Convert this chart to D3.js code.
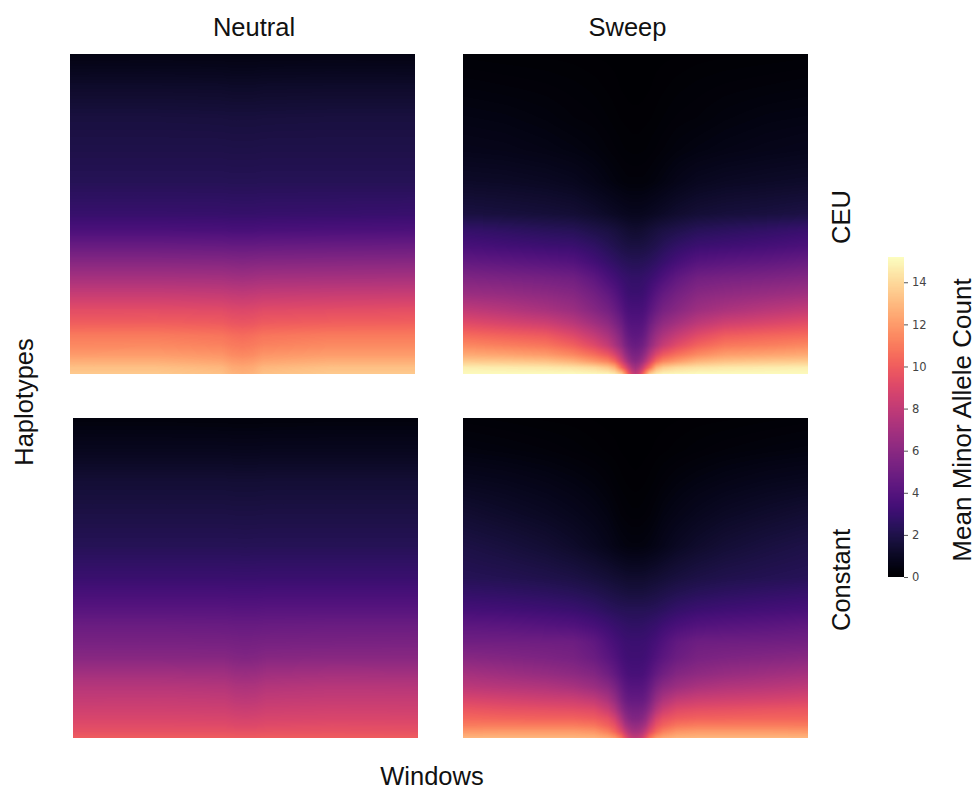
<!DOCTYPE html>
<html>
<head>
<meta charset="utf-8">
<script src="https://d3js.org/d3.v7.min.js"></script>
<style>
  html, body { margin: 0; padding: 0; background: #fff; }
  text { font-family: "Liberation Sans", Arial, sans-serif; fill: #111; }
</style>
</head>
<body>
<div id="chart"></div>
<script>
// haplotype rows (0 = top of the panel, 100 = bottom), bins
const haplotypeRows = [0, 10, 20, 30, 40, 50, 55, 60, 65, 70, 75, 80, 84, 88, 91, 94, 96, 98, 100];

// windows: neutral panels are flat so they need few columns, sweeps are dense around the middle
const neutralWindows = [0, 25, 44, 47, 50, 53, 56, 75, 100];
const sweepWindows = [0, 12, 24, 32, 38, 42, 44, 46, 47, 48, 49, 50, 51, 52, 53, 54, 56, 58, 62, 68, 76, 88, 100];

const colTitles = ['Neutral', 'Sweep'];
const rowTitles = ['CEU', 'Constant'];
const cbarTicks = [0, 2, 4, 6, 8, 10, 12, 14];
const cbarMax = 15.2;

const ceuNeutral = [
  [.5, .52, .5, .48, .48, .48, .5, .52, .5],
  [1.2, 1.2, 1.18, 1.15, 1.15, 1.15, 1.18, 1.2, 1.2],
  [1.75, 1.75, 1.72, 1.7, 1.7, 1.7, 1.72, 1.75, 1.75],
  [2.0, 2.0, 2.0, 1.98, 1.98, 1.98, 2.0, 2.0, 2.0],
  [2.3, 2.3, 2.3, 2.28, 2.28, 2.28, 2.3, 2.3, 2.3],
  [2.9, 2.9, 2.88, 2.85, 2.85, 2.85, 2.88, 2.9, 2.95],
  [3.6, 3.6, 3.55, 3.5, 3.5, 3.5, 3.55, 3.6, 3.65],
  [4.7, 4.7, 4.65, 4.6, 4.6, 4.6, 4.65, 4.7, 4.75],
  [5.85, 5.85, 5.8, 5.75, 5.7, 5.75, 5.8, 5.85, 5.9],
  [7.0, 7.0, 6.95, 6.85, 6.8, 6.85, 6.95, 7.0, 7.05],
  [8.2, 8.2, 8.1, 8.0, 7.95, 8.0, 8.1, 8.2, 8.25],
  [9.3, 9.3, 9.2, 9.05, 9.0, 9.05, 9.2, 9.3, 9.4],
  [10.0, 10.05, 9.9, 9.7, 9.65, 9.7, 9.9, 10.05, 10.1],
  [11.0, 11.0, 10.8, 10.6, 10.5, 10.6, 10.8, 11.0, 11.0],
  [11.4, 11.45, 11.2, 11.0, 10.9, 11.0, 11.2, 11.45, 11.45],
  [12.0, 12.05, 11.8, 11.5, 11.4, 11.5, 11.8, 12.05, 12.05],
  [12.6, 12.6, 12.3, 12.0, 11.9, 12.0, 12.3, 12.6, 12.6],
  [13.2, 13.2, 12.9, 12.5, 12.4, 12.5, 12.9, 13.2, 13.2],
  [13.5, 13.5, 13.2, 12.8, 12.7, 12.8, 13.2, 13.5, 13.5]
];

const constNeutral = [
  [.35, .35, .33, .32, .32, .32, .33, .35, .35],
  [.85, .85, .85, .83, .83, .83, .85, .85, .85],
  [1.5, 1.5, 1.5, 1.48, 1.48, 1.48, 1.5, 1.5, 1.5],
  [1.9, 1.9, 1.9, 1.88, 1.88, 1.88, 1.9, 1.9, 1.9],
  [2.3, 2.3, 2.3, 2.3, 2.28, 2.3, 2.3, 2.3, 2.3],
  [3.0, 3.0, 3.0, 2.98, 2.98, 2.98, 3.0, 3.0, 3.0],
  [3.5, 3.5, 3.5, 3.48, 3.48, 3.48, 3.5, 3.5, 3.5],
  [4.1, 4.1, 4.1, 4.05, 4.05, 4.05, 4.1, 4.1, 4.1],
  [4.8, 4.8, 4.75, 4.7, 4.7, 4.7, 4.75, 4.8, 4.8],
  [5.3, 5.3, 5.25, 5.2, 5.15, 5.2, 5.25, 5.3, 5.35],
  [5.9, 5.9, 5.85, 5.7, 5.65, 5.7, 5.85, 5.95, 5.95],
  [6.9, 6.9, 6.8, 6.6, 6.55, 6.6, 6.8, 6.95, 6.9],
  [7.6, 7.6, 7.5, 7.3, 7.25, 7.3, 7.5, 7.65, 7.6],
  [8.1, 8.15, 8.05, 7.85, 7.8, 7.85, 8.05, 8.15, 8.15],
  [8.5, 8.5, 8.45, 8.3, 8.25, 8.3, 8.45, 8.55, 8.5],
  [8.9, 8.9, 8.85, 8.75, 8.7, 8.75, 8.85, 8.9, 8.9],
  [9.2, 9.2, 9.15, 9.05, 9.05, 9.05, 9.15, 9.25, 9.2],
  [9.5, 9.5, 9.5, 9.45, 9.45, 9.45, 9.5, 9.55, 9.5],
  [10.0, 10.0, 10.0, 9.95, 9.95, 9.95, 10.0, 10.0, 10.0]
];

const ceuSweep = [
  [.15, .12, .1, .08, .05, .04, .03, .02, .02, .02, .02, .02, .02, .02, .02, .02, .03, .04, .05, .08, .1, .12, .15],
  [.35, .3, .25, .2, .15, .1, .08, .05, .04, .03, .03, .03, .03, .03, .04, .05, .08, .1, .15, .2, .25, .3, .35],
  [.55, .5, .4, .3, .25, .18, .14, .11, .1, .09, .08, .08, .08, .09, .1, .11, .14, .18, .25, .3, .4, .5, .55],
  [.75, .7, .6, .5, .4, .3, .25, .2, .18, .17, .16, .16, .16, .17, .18, .2, .25, .3, .4, .5, .6, .7, .78],
  [1.15, 1.1, 1.0, .88, .68, .52, .44, .37, .34, .32, .32, .32, .32, .32, .34, .37, .44, .52, .7, .9, 1.02, 1.12, 1.2],
  [1.8, 1.7, 1.6, 1.5, 1.3, 1.12, 1.03, .94, .9, .87, .85, .85, .85, .87, .9, .94, 1.03, 1.13, 1.32, 1.52, 1.65, 1.75, 1.9],
  [2.8, 2.6, 2.4, 2.3, 2.0, 1.82, 1.7, 1.55, 1.47, 1.4, 1.36, 1.35, 1.36, 1.4, 1.47, 1.55, 1.7, 1.84, 2.05, 2.35, 2.5, 2.7, 2.95],
  [3.5, 3.3, 3.1, 3.0, 2.65, 2.3, 2.12, 1.95, 1.88, 1.83, 1.8, 1.8, 1.8, 1.83, 1.88, 1.95, 2.12, 2.35, 2.7, 3.05, 3.2, 3.4, 3.65],
  [4.5, 4.3, 4.1, 3.9, 3.3, 2.85, 2.65, 2.45, 2.38, 2.32, 2.3, 2.3, 2.3, 2.32, 2.38, 2.45, 2.65, 2.9, 3.4, 4.0, 4.2, 4.4, 4.7],
  [5.6, 5.4, 5.2, 5.0, 4.3, 3.6, 3.3, 3.0, 2.9, 2.82, 2.75, 2.75, 2.75, 2.82, 2.9, 3.0, 3.3, 3.7, 4.4, 5.1, 5.3, 5.5, 5.75],
  [6.6, 6.4, 6.1, 5.8, 5.1, 4.45, 4.0, 3.5, 3.25, 3.1, 3.05, 3.05, 3.05, 3.1, 3.25, 3.5, 4.05, 4.55, 5.2, 5.9, 6.2, 6.5, 6.8],
  [8.0, 7.6, 7.1, 6.6, 5.8, 5.2, 4.7, 4.1, 3.75, 3.55, 3.5, 3.5, 3.5, 3.55, 3.75, 4.1, 4.75, 5.3, 5.9, 6.7, 7.2, 7.7, 8.1],
  [9.2, 8.8, 8.4, 7.7, 6.8, 6.1, 5.5, 4.8, 4.3, 4.0, 3.9, 3.9, 3.9, 4.0, 4.3, 4.8, 5.6, 6.2, 6.9, 7.8, 8.5, 8.9, 9.3],
  [10.5, 10.2, 9.9, 9.1, 8.1, 7.2, 6.5, 5.6, 4.95, 4.55, 4.35, 4.3, 4.35, 4.55, 4.95, 5.6, 6.6, 7.3, 8.2, 9.2, 10.0, 10.3, 10.5],
  [11.4, 11.1, 10.8, 10.1, 9.1, 8.1, 7.2, 6.2, 5.5, 5.05, 4.8, 4.7, 4.8, 5.05, 5.5, 6.2, 7.3, 8.2, 9.2, 10.2, 10.9, 11.1, 11.4],
  [12.5, 12.3, 12.0, 11.4, 10.6, 9.8, 8.9, 7.5, 6.6, 5.95, 5.5, 5.4, 5.5, 5.95, 6.6, 7.5, 9.0, 9.9, 10.7, 11.5, 12.1, 12.3, 12.5],
  [13.5, 13.4, 13.2, 12.7, 11.9, 11.2, 10.3, 8.6, 7.6, 6.7, 6.1, 5.9, 6.1, 6.7, 7.6, 8.6, 10.4, 11.3, 12.0, 12.8, 13.2, 13.4, 13.5],
  [14.7, 14.6, 14.5, 14.3, 14.0, 13.4, 12.6, 10.4, 9.4, 8.2, 7.3, 6.9, 7.3, 8.2, 9.4, 10.4, 12.7, 13.5, 14.0, 14.3, 14.5, 14.6, 14.7],
  [15.1, 15.1, 15.1, 15.1, 15.0, 14.9, 14.5, 13.5, 11.8, 10.0, 8.6, 8.0, 8.6, 10.0, 11.8, 13.5, 14.5, 14.9, 15.0, 15.1, 15.1, 15.1, 15.1]
];

const constSweep = [
  [.2, .15, .1, .08, .05, .03, .02, .01, .01, 0, 0, 0, 0, 0, .01, .01, .02, .03, .05, .08, .1, .15, .2],
  [.45, .38, .3, .22, .15, .1, .08, .05, .04, .03, .02, .02, .02, .03, .04, .05, .08, .1, .15, .22, .3, .38, .45],
  [.9, .8, .65, .52, .4, .28, .2, .14, .12, .1, .09, .08, .09, .1, .12, .14, .2, .28, .4, .52, .65, .8, .9],
  [1.4, 1.2, 1.0, .82, .65, .5, .38, .28, .25, .22, .2, .2, .2, .22, .25, .28, .38, .5, .65, .85, 1.05, 1.25, 1.45],
  [1.9, 1.7, 1.45, 1.2, .95, .75, .62, .52, .48, .45, .44, .44, .44, .45, .48, .52, .62, .75, 1.0, 1.25, 1.5, 1.75, 1.95],
  [2.3, 2.2, 2.05, 1.9, 1.7, 1.55, 1.45, 1.38, 1.33, 1.3, 1.3, 1.3, 1.3, 1.3, 1.33, 1.38, 1.45, 1.55, 1.72, 1.92, 2.08, 2.22, 2.35],
  [2.8, 2.7, 2.55, 2.4, 2.2, 2.0, 1.9, 1.82, 1.78, 1.75, 1.75, 1.75, 1.75, 1.75, 1.78, 1.82, 1.9, 2.02, 2.22, 2.42, 2.58, 2.75, 2.9],
  [3.4, 3.3, 3.15, 3.0, 2.75, 2.5, 2.4, 2.32, 2.3, 2.28, 2.28, 2.28, 2.28, 2.28, 2.3, 2.32, 2.4, 2.52, 2.8, 3.05, 3.2, 3.35, 3.5],
  [4.3, 4.2, 4.0, 3.85, 3.5, 3.15, 2.95, 2.82, 2.75, 2.7, 2.68, 2.68, 2.68, 2.7, 2.75, 2.82, 2.95, 3.2, 3.55, 3.9, 4.05, 4.2, 4.4],
  [5.0, 5.0, 4.95, 4.9, 4.4, 3.75, 3.45, 3.2, 3.1, 3.07, 3.05, 3.05, 3.05, 3.07, 3.1, 3.2, 3.45, 3.8, 4.45, 4.9, 4.95, 5.0, 5.1],
  [5.9, 5.7, 5.5, 5.3, 4.8, 4.2, 3.85, 3.45, 3.3, 3.22, 3.2, 3.2, 3.2, 3.22, 3.3, 3.45, 3.85, 4.25, 4.85, 5.35, 5.55, 5.75, 5.95],
  [7.0, 6.7, 6.4, 6.1, 5.7, 5.0, 4.5, 3.95, 3.7, 3.55, 3.5, 3.5, 3.5, 3.55, 3.7, 3.95, 4.55, 5.05, 5.75, 6.15, 6.45, 6.75, 7.0],
  [7.8, 7.6, 7.4, 7.1, 6.6, 6.0, 5.4, 4.6, 4.25, 4.05, 4.0, 4.0, 4.0, 4.05, 4.25, 4.6, 5.45, 6.05, 6.65, 7.15, 7.45, 7.65, 7.9],
  [8.9, 8.7, 8.5, 8.4, 8.0, 7.2, 6.4, 5.3, 4.85, 4.6, 4.55, 4.55, 4.55, 4.6, 4.85, 5.3, 6.45, 7.25, 8.05, 8.4, 8.55, 8.7, 8.9],
  [9.7, 9.5, 9.4, 9.3, 9.1, 8.3, 7.4, 6.1, 5.55, 5.25, 5.15, 5.1, 5.15, 5.25, 5.55, 6.1, 7.45, 8.35, 9.1, 9.35, 9.45, 9.6, 9.7],
  [10.4, 10.3, 10.2, 10.2, 10.0, 9.5, 8.7, 7.2, 6.4, 5.95, 5.7, 5.65, 5.7, 5.95, 6.4, 7.2, 8.75, 9.5, 10.0, 10.2, 10.25, 10.3, 10.3],
  [11.0, 11.0, 11.0, 11.0, 10.8, 10.1, 9.5, 8.1, 7.2, 6.7, 6.4, 6.3, 6.4, 6.7, 7.2, 8.1, 9.5, 10.15, 10.8, 11.0, 11.0, 11.0, 11.0],
  [11.9, 12.0, 12.0, 12.0, 11.8, 11.1, 10.3, 9.1, 8.2, 7.5, 7.1, 7.0, 7.1, 7.5, 8.2, 9.1, 10.35, 11.15, 11.8, 12.0, 12.0, 12.0, 11.9],
  [12.9, 12.9, 12.9, 12.9, 12.8, 12.4, 11.9, 10.7, 9.6, 8.7, 8.2, 8.0, 8.2, 8.7, 9.6, 10.7, 11.9, 12.4, 12.8, 12.9, 12.9, 12.9, 12.9]
];

//build the empty svg
const svgWidth = 976;
const svgHeight = 791;
const panelWidth = 345;
const panelHeight = 320;

const svg = d3.select('#chart')
  .append('svg')
  .attr('width', svgWidth)
  .attr('height', svgHeight)
  .style('display', 'block');

const color = d3.scaleSequential(d3.interpolateMagma).domain([0, cbarMax]);

const panels = [
  {left: 70, top: 54, windows: neutralWindows, values: ceuNeutral},
  {left: 463, top: 54, windows: sweepWindows, values: ceuSweep},
  {left: 73, top: 418, windows: neutralWindows, values: constNeutral},
  {left: 463, top: 418, windows: sweepWindows, values: constSweep}
];

// looks up where t falls in a sorted list, returns lower index and fraction
function locate(list, t) {
  const i = Math.min(Math.max(d3.bisectRight(list, t) - 1, 0), list.length - 2);
  return [i, (t - list[i]) / (list[i + 1] - list[i])];
}

// paints a panel like imshow with bilinear interpolation, goes in the svg as an image
panels.forEach(p => {
  const x = d3.scaleLinear().domain([0, 100]).range([0, panelWidth]);
  const y = d3.scaleLinear().domain([0, 100]).range([0, panelHeight]);

  const canvas = document.createElement('canvas');
  canvas.width = panelWidth;
  canvas.height = panelHeight;
  const ctx = canvas.getContext('2d');
  const img = ctx.createImageData(panelWidth, panelHeight);

  for (let py = 0; py < panelHeight; py++) {
    const [r, fr] = locate(haplotypeRows, y.invert(py + 0.5));
    for (let px = 0; px < panelWidth; px++) {
      const [c, fc] = locate(p.windows, x.invert(px + 0.5));
      const top = p.values[r][c] * (1 - fc) + p.values[r][c + 1] * fc;
      const bot = p.values[r + 1][c] * (1 - fc) + p.values[r + 1][c + 1] * fc;
      const rgb = d3.rgb(color(top * (1 - fr) + bot * fr));
      const k = (py * panelWidth + px) * 4;
      img.data[k] = rgb.r;
      img.data[k + 1] = rgb.g;
      img.data[k + 2] = rgb.b;
      img.data[k + 3] = 255;
    }
  }
  ctx.putImageData(img, 0, 0);

  svg.append('image')
    .attr('x', p.left)
    .attr('y', p.top)
    .attr('width', panelWidth)
    .attr('height', panelHeight)
    .attr('href', canvas.toDataURL());
});

//column and row labels
const labelSize = 25.5;

svg.selectAll('.colTitle')
  .data(colTitles)
  .enter()
  .append('text')
  .attr('class', 'colTitle')
  .attr('x', (d, i) => [254, 627.5][i])
  .attr('y', 36)
  .attr('text-anchor', 'middle')
  .attr('font-size', labelSize)
  .text(d => d);

svg.selectAll('.rowTitle')
  .data(rowTitles)
  .enter()
  .append('text')
  .attr('class', 'rowTitle')
  .attr('transform', (d, i) => `translate(850, ${[217, 580][i]}) rotate(-90)`)
  .attr('text-anchor', 'middle')
  .attr('font-size', labelSize)
  .text(d => d);

svg.append('text')
  .attr('x', 432)
  .attr('y', 785)
  .attr('text-anchor', 'middle')
  .attr('font-size', labelSize)
  .text('Windows');

svg.append('text')
  .attr('transform', 'translate(33, 402) rotate(-90)')
  .attr('text-anchor', 'middle')
  .attr('font-size', labelSize)
  .text('Haplotypes');

//colorbar
const cbarLeft = 888;
const cbarTop = 257;
const cbarWidth = 16;
const cbarHeight = 320;
const cbarScale = d3.scaleLinear().domain([0, cbarMax]).range([cbarHeight, 0]);

const cbar = svg.append('g')
  .attr('transform', `translate(${cbarLeft}, ${cbarTop})`);

cbar.selectAll('rect')
  .data(d3.range(0, cbarHeight))
  .enter()
  .append('rect')
  .attr('x', 0)
  .attr('y', d => d)
  .attr('width', cbarWidth)
  .attr('height', d => d === cbarHeight - 1 ? 1 : 1.5)
  .attr('fill', d => color(cbarScale.invert(d + 0.5)));

const cbarAxis = d3.axisRight(cbarScale)
  .tickValues(cbarTicks)
  .tickSize(4)
  .tickPadding(4);

const cbarG = cbar.append('g')
  .attr('transform', `translate(${cbarWidth}, 0)`)
  .call(cbarAxis);

cbarG.select('.domain').remove();
cbarG.selectAll('line').attr('stroke', '#555');
cbarG.selectAll('text')
  .style('font-family', '"DejaVu Sans", sans-serif')
  .style('fill', '#444')
  .attr('font-size', 11.5);

svg.append('text')
  .attr('transform', 'translate(971, 420) rotate(-90)')
  .attr('text-anchor', 'middle')
  .attr('font-size', 26)
  .text('Mean Minor Allele Count');
</script>
</body>
</html>
